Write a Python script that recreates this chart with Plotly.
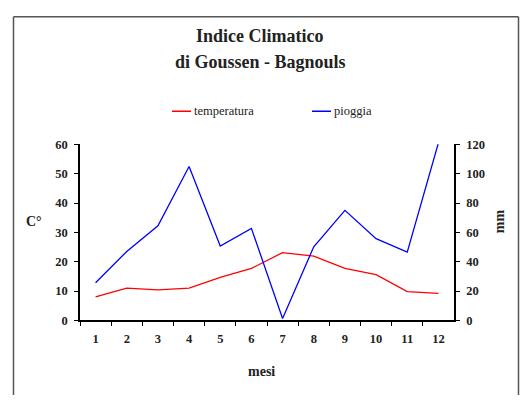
import plotly.graph_objects as go

# Monthly climate data
mesi = ["1", "2", "3", "4", "5", "6", "7", "8", "9", "10", "11", "12"]
temperatura = [8.0, 11.0, 10.4, 11.0, 14.7, 17.7, 23.1, 21.9, 17.7, 15.6, 9.8, 9.2]
pioggia = [25.7, 47.0, 64.5, 104.9, 50.7, 62.7, 1.3, 50.2, 75.0, 55.7, 46.5, 121.0]

# Axis ticks
temp_ticks = [0, 10, 20, 30, 40, 50, 60]
rain_ticks = [0, 20, 40, 60, 80, 100, 120]

W, H = 521, 402
SERIF = "Liberation Serif, Times New Roman, serif"
RED = "#FF0000"
BLUE = "#0000FF"
INK = "#222222"


def px_x(x):
    return x / W


def px_y(y):
    return (H - y) / H


fig = go.Figure()
fig.add_trace(go.Scatter(x=mesi, y=temperatura, mode="lines", name="temperatura",
                         line=dict(color=RED, width=1.3), yaxis="y", showlegend=False))
fig.add_trace(go.Scatter(x=mesi, y=pioggia, mode="lines", name="pioggia",
                         line=dict(color=BLUE, width=1.3), yaxis="y2", showlegend=False))

tick_font = dict(family=SERIF, size=12.5, color=INK, weight="bold")
dom_x = [px_x(80), px_x(454)]
dom_y = [px_y(324.7), px_y(142.3)]

fig.update_layout(
    width=W, height=H,
    margin=dict(l=0, r=0, t=0, b=0),
    paper_bgcolor="white", plot_bgcolor="white",
    xaxis=dict(domain=dom_x, type="category", range=[-0.5, 11.5],
               tickson="boundaries", ticks="outside", ticklen=4, tickwidth=1,
               tickcolor="black", showline=True, linecolor="black", linewidth=2,
               showgrid=False, zeroline=False, tickfont=tick_font,
               ticklabelstandoff=6, fixedrange=True),
    yaxis=dict(domain=dom_y, range=[0, 60], tickvals=temp_ticks,
               ticks="outside", ticklen=4, tickcolor="black",
               showline=True, linecolor="black", linewidth=1.5,
               showgrid=False, zeroline=False, tickfont=tick_font,
               ticklabelstandoff=4),
    yaxis2=dict(overlaying="y", side="right", anchor="x", range=[0, 120],
                tickvals=rain_ticks, ticks="outside", ticklen=4, tickcolor="black",
                showline=True, linecolor="black", linewidth=1.5,
                showgrid=False, zeroline=False, tickfont=tick_font,
                ticklabelstandoff=4),
)

title_font = dict(family=SERIF, size=18, color=INK)
label_font = dict(family=SERIF, size=14, color=INK)
legend_font = dict(family=SERIF, size=12.5, color=INK)

annotations = [
    dict(text="<b>Indice Climatico</b>", x=px_x(260), y=px_y(30), font=title_font),
    dict(text="<b>di Goussen - Bagnouls</b>", x=px_x(260), y=px_y(57), font=title_font),
    dict(text="<b>C°</b>", x=px_x(34), y=px_y(222), font=label_font),
    dict(text="<b>mm</b>", x=px_x(499), y=px_y(222), font=label_font, textangle=-90),
    dict(text="<b>mesi</b>", x=px_x(261), y=px_y(378), font=label_font),
    dict(text="temperatura", x=px_x(192), y=px_y(108), xanchor="left", font=legend_font),
    dict(text="pioggia", x=px_x(332), y=px_y(108), xanchor="left", font=legend_font),
]
for a in annotations:
    a.setdefault("xanchor", "center")
    a.update(xref="paper", yref="paper", yanchor="middle", showarrow=False)
fig.update_layout(annotations=annotations)

frame = dict(color="#555555", width=1.5)
shapes = [
    # outer chart frame (runs past the bottom edge)
    dict(type="line", x0=px_x(13.5), x1=px_x(13.5), y0=0, y1=px_y(10), line=frame),
    dict(type="line", x0=px_x(518.5), x1=px_x(518.5), y0=0, y1=px_y(10), line=frame),
    dict(type="line", x0=px_x(13.5), x1=px_x(518.5), y0=px_y(10), y1=px_y(10), line=frame),
    # legend keys
    dict(type="line", x0=px_x(172), x1=px_x(191), y0=px_y(108), y1=px_y(108),
         line=dict(color=RED, width=1.5)),
    dict(type="line", x0=px_x(312), x1=px_x(331), y0=px_y(108), y1=px_y(108),
         line=dict(color=BLUE, width=1.5)),
]
for s in shapes:
    s.update(xref="paper", yref="paper")
fig.update_layout(shapes=shapes)

fig.write_html("out.html")
